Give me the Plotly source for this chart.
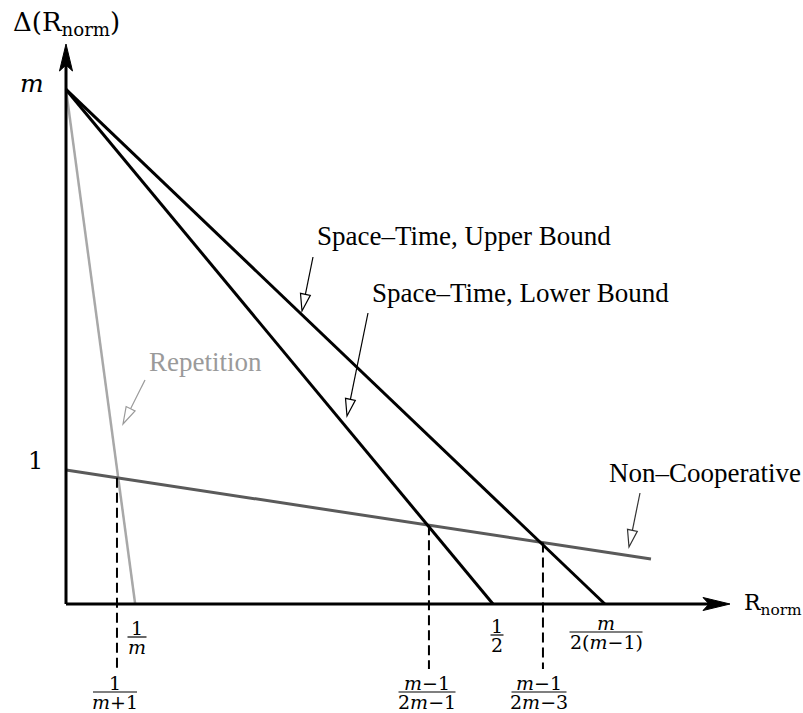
import math
import plotly.graph_objects as go

# ---------------- data (schematic units: x = R_norm, y = Delta(R_norm)) ----------------
m_level = 3.84                      # value of "m" on the Delta axis
one_level = 1.0                     # value of "1" on the Delta axis
rep_x = [0.0, 0.081]                # Repetition: from (0, m) to (1/m, 0)
rep_y = [3.84, 0.0]
lower_x = [0.0, 0.5]                # Space-Time lower bound: (0, m) -> (1/2, 0)
lower_y = [3.84, 0.0]
upper_x = [0.0, 0.631]              # Space-Time upper bound: (0, m) -> (m/(2(m-1)), 0)
upper_y = [3.84, 0.0]
noncoop_x = [0.0, 0.685]            # Non-Cooperative
noncoop_y = [1.0, 0.336]
cross_x = [0.0597, 0.425, 0.5585]   # intersections with Non-Cooperative line
cross_y = [0.942, 0.588, 0.459]
cross_num = ["1", "<i>m</i>−1", "<i>m</i>−1"]
cross_den = ["<i>m</i>+1", "2<i>m</i>−1", "2<i>m</i>−3"]
tick_x = [0.081, 0.5, 0.631]        # axis intercepts
tick_num = ["1", "1", "<i>m</i>"]
tick_den = ["<i>m</i>", "2", "2(<i>m</i>−1)"]

# ---------------- layout geometry ----------------
W, H = 803, 713
X0, Y0 = 66, 604          # pixel position of origin
SX, SY = 854.0, 134.0     # pixels per unit


def to_px(x, y):
    return X0 + SX * x, Y0 - SY * y


def to_data(px, py):
    return (px - X0) / SX, (Y0 - py) / SY


def path_from_px(points, close=True):
    parts = []
    for i, (px, py) in enumerate(points):
        x, y = to_data(px, py)
        parts.append(("M" if i == 0 else "L") + f"{x:.5f},{y:.5f}")
    return " ".join(parts) + (" Z" if close else "")


fig = go.Figure()

BLACK = "#000000"
NC_COL = "#5a5a5a"
REP_COL = "#a8a8a8"
REP_TXT = "#9a9a9a"

# main lines
fig.add_trace(go.Scatter(x=rep_x, y=rep_y, mode="lines",
                         line=dict(color=REP_COL, width=2.5), hoverinfo="skip"))
fig.add_trace(go.Scatter(x=noncoop_x, y=noncoop_y, mode="lines",
                         line=dict(color=NC_COL, width=3), hoverinfo="skip"))
fig.add_trace(go.Scatter(x=lower_x, y=lower_y, mode="lines",
                         line=dict(color=BLACK, width=3), hoverinfo="skip"))
fig.add_trace(go.Scatter(x=upper_x, y=upper_y, mode="lines",
                         line=dict(color=BLACK, width=3), hoverinfo="skip"))

# dashed drop lines from intersections
dash_bottom = to_data(0, 669)[1]
for cx, cy in zip(cross_x, cross_y):
    fig.add_trace(go.Scatter(x=[cx, cx], y=[cy, dash_bottom], mode="lines",
                             line=dict(color=BLACK, width=2, dash="10px,5px"),
                             hoverinfo="skip"))

shapes = []
annotations = []

# axes with stealth arrowheads
x_tip_px, y_tip_py = 730, 44
x_tip = to_data(x_tip_px, Y0)[0]
y_tip = to_data(X0, y_tip_py)[1]
shapes.append(dict(type="line", xref="x", yref="y", x0=0, y0=0,
                   x1=to_data(x_tip_px - 20, Y0)[0], y1=0,
                   line=dict(color=BLACK, width=3)))
shapes.append(dict(type="line", xref="x", yref="y", x0=0, y0=0,
                   x1=0, y1=to_data(X0, y_tip_py + 20)[1],
                   line=dict(color=BLACK, width=3)))
tx, ty = to_px(x_tip, 0)
shapes.append(dict(type="path", xref="x", yref="y",
                   path=path_from_px([(tx, ty), (tx - 27, ty - 6.5), (tx - 21, ty), (tx - 27, ty + 6.5)]),
                   fillcolor=BLACK, line=dict(color=BLACK, width=1)))
tx, ty = to_px(0, y_tip)
shapes.append(dict(type="path", xref="x", yref="y",
                   path=path_from_px([(tx, ty), (tx - 6.5, ty + 27), (tx, ty + 21), (tx + 6.5, ty + 27)]),
                   fillcolor=BLACK, line=dict(color=BLACK, width=1)))

# pointer arrows with hollow heads (tail px, tip px, colour)
pointers = [
    ((313, 257), (302, 311), BLACK),
    ((368, 313), (347, 416), BLACK),
    ((145, 380), (123, 424), REP_TXT),
    ((640, 493), (629, 547), "#333333"),
]
for (tlx, tly), (tpx, tpy), col in pointers:
    dx, dy = tpx - tlx, tpy - tly
    L = math.hypot(dx, dy)
    ux, uy = dx / L, dy / L
    nx, ny = -uy, ux
    hl, hw = 17, 5
    bx, by = tpx - hl * ux, tpy - hl * uy
    shapes.append(dict(type="path", xref="x", yref="y",
                       path=path_from_px([(tlx, tly), (bx, by)], close=False),
                       line=dict(color=col, width=1.2)))
    shapes.append(dict(type="path", xref="x", yref="y",
                       path=path_from_px([(tpx, tpy), (bx + hw * nx, by + hw * ny),
                                          (bx - hw * nx, by - hw * ny)]),
                       fillcolor="white", line=dict(color=col, width=1.2)))

SERIF = "Liberation Serif"
MATH = "DejaVu Serif"


def label(px, py, text, size, color=BLACK, family=SERIF, xanchor="left"):
    x, y = to_data(px, py)
    annotations.append(dict(x=x, y=y, xref="x", yref="y", text=text, showarrow=False,
                            xanchor=xanchor, yanchor="middle",
                            font=dict(family=family, size=size, color=color)))


def fraction(xc_px, bar_py, bar_w, num, den, size=19):
    x, y = to_data(xc_px, bar_py)
    x0 = to_data(xc_px - bar_w / 2, bar_py)[0]
    x1 = to_data(xc_px + bar_w / 2, bar_py)[0]
    shapes.append(dict(type="line", xref="x", yref="y", x0=x0, x1=x1, y0=y, y1=y,
                       line=dict(color=BLACK, width=1.2)))
    annotations.append(dict(x=x, y=y, xref="x", yref="y", text=num, showarrow=False,
                            xanchor="center", yanchor="middle", yshift=9,
                            font=dict(family=MATH, size=size, color=BLACK)))
    annotations.append(dict(x=x, y=y, xref="x", yref="y", text=den, showarrow=False,
                            xanchor="center", yanchor="middle", yshift=-10,
                            font=dict(family=MATH, size=size, color=BLACK)))


# series labels
label(315, 236, "Space–Time, Upper Bound", 27)
label(370, 293, "Space–Time, Lower Bound", 27)
label(147, 362, "Repetition", 27, color=REP_TXT)
label(607, 473, "Non–Cooperative", 27)

# axis labels
label(66, 23, "Δ(R<sub>norm</sub>)", 26, family=MATH, xanchor="center")
label(742, 604, "R<sub>norm</sub>", 22, family=MATH)
label(32, 83, "<i>m</i>", 25, family=MATH, xanchor="center")
label(35, 461, "1", 24, family=MATH, xanchor="center")

# fraction tick labels on the axis (intercepts)
tick_px = [(137, 637, 19), (497, 635, 13), (606, 632, 73)]
for (xc, by, bw), num, den in zip(tick_px, tick_num, tick_den):
    fraction(xc, by, bw, num, den)

# fraction labels under the dashed lines (intersections)
cross_lab_px = [(115, 692, 44), (427, 692, 57), (539, 692, 55)]
for (xc, by, bw), num, den in zip(cross_lab_px, cross_num, cross_den):
    fraction(xc, by, bw, num, den)

xr = [to_data(0, 0)[0], to_data(W, 0)[0]]
yr = [to_data(0, H)[1], to_data(0, 0)[1]]

fig.update_layout(
    width=W, height=H, autosize=False,
    margin=dict(l=0, r=0, t=0, b=0),
    paper_bgcolor="white", plot_bgcolor="white",
    showlegend=False,
    xaxis=dict(range=xr, visible=False, fixedrange=True),
    yaxis=dict(range=yr, visible=False, fixedrange=True),
    shapes=shapes,
    annotations=annotations,
)

fig.write_html("out.html", config={"displayModeBar": False},
               post_script="document.body.style.margin='0';")
